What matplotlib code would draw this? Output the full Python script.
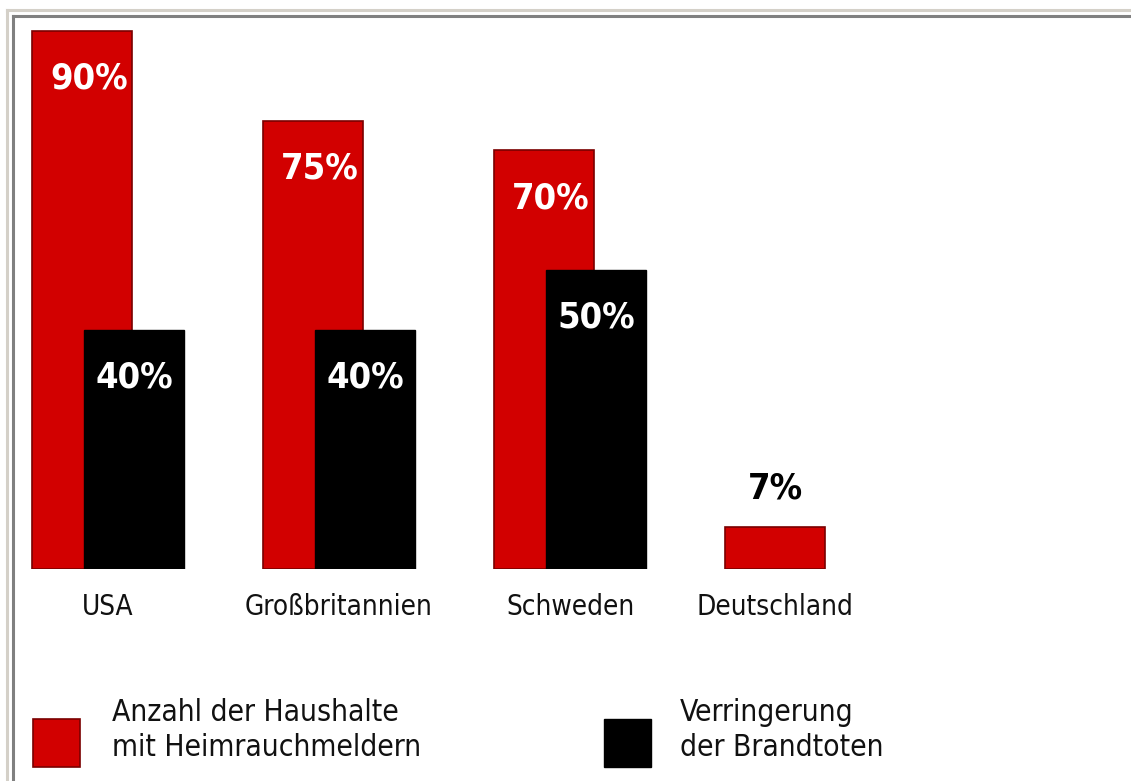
import matplotlib.pyplot as plt
import matplotlib.patches as mpatches
import numpy as np

# data
countries = ['USA', 'Großbritannien', 'Schweden', 'Deutschland']
haushalte = [90, 75, 70, 7]          # Anzahl der Haushalte mit Heimrauchmeldern (%)
brandtote = [40, 40, 50, None]       # Verringerung der Brandtoten (%)
legend_labels = ['Anzahl der Haushalte\nmit Heimrauchmeldern', 'Verringerung\nder Brandtoten']

RED = '#d20000'
RED_EDGE = '#7a0000'
BLACK = '#000000'
FONT = ['DejaVu Sans']
STRETCH = 'condensed'

W, H = 1131, 781
fig = plt.figure(figsize=(W / 100, H / 100), dpi=100)
fig.patch.set_facecolor('white')

# pixel geometry of the plotting area
px_per_cat = 231.0
x0_px = 82.0          # centre of first red bar
base_px = 569.0       # value 0
px_per_pct = 5.98
bar_w = 100 / px_per_cat
shift = 52 / px_per_cat

left_px, right_px, top_px = 14, 1120, 15
ax = fig.add_axes([left_px / W, (H - base_px) / H, (right_px - left_px) / W, (base_px - top_px) / H])
ax.set_xlim((left_px - x0_px) / px_per_cat, (right_px - x0_px) / px_per_cat)
ax.set_ylim(0, (base_px - top_px) / px_per_pct)
ax.axis('off')

x = np.arange(len(countries))
ax.bar(x, haushalte, width=bar_w, color=RED, edgecolor=RED_EDGE, linewidth=1.2, zorder=2)
bx = [xi + shift for xi, b in zip(x, brandtote) if b is not None]
bv = [b for b in brandtote if b is not None]
ax.bar(bx, bv, width=bar_w, color=BLACK, edgecolor=BLACK, linewidth=1, zorder=3)

# value labels
for xi, v in zip(x, haushalte):
    if v > 20:
        ax.text(xi + 0.03, v - 8, f'{v}%', color='white', fontsize=26, fontweight='bold',
                family=FONT, stretch=STRETCH, ha='center', va='center', zorder=4)
    else:
        ax.text(xi, v + 6.5, f'{v}%', color='black', fontsize=26, fontweight='bold',
                family=FONT, stretch=STRETCH, ha='center', va='center', zorder=4)
for xi, v in zip(bx, bv):
    ax.text(xi, v - 8, f'{v}%', color='white', fontsize=26, fontweight='bold',
            family=FONT, stretch=STRETCH, ha='center', va='center', zorder=4)

# category labels
for xi, name, b in zip(x, countries, brandtote):
    cx = xi + shift / 2 if b is not None else xi
    ax.text(cx, -6.4, name, color='#111111', fontsize=20, family=FONT, stretch=STRETCH,
            ha='center', va='center', clip_on=False)

# overlay in pixel coordinates: frame and legend
ov = fig.add_axes([0, 0, 1, 1], zorder=-1)
ov.set_xlim(0, W)
ov.set_ylim(H, 0)
ov.axis('off')
ov.plot([7, 7], [10, H], color='#d4d0c8', lw=2.2)
ov.plot([7, W], [10, 10], color='#d4d0c8', lw=2.2)
ov.plot([12.5, 12.5], [15.5, H], color='#808080', lw=2.2)
ov.plot([12.5, W], [15.5, 15.5], color='#808080', lw=2.2)

ov2 = fig.add_axes([0, 0, 1, 1], zorder=5)
ov2.set_xlim(0, W)
ov2.set_ylim(H, 0)
ov2.axis('off')
ov2.patch.set_alpha(0)
ov2.add_patch(mpatches.Rectangle((33, 719), 47, 48, facecolor=RED, edgecolor=RED_EDGE, lw=1.2))
ov2.add_patch(mpatches.Rectangle((604, 719), 47, 48, facecolor=BLACK, edgecolor=BLACK, lw=1))
ov2.text(112, 730, legend_labels[0], fontsize=21.5, family=FONT, stretch=STRETCH, color='#111111',
         ha='left', va='center', linespacing=1.22)
ov2.text(680, 730, legend_labels[1], fontsize=21.5, family=FONT, stretch=STRETCH, color='#111111',
         ha='left', va='center', linespacing=1.22)

fig.savefig('out.png', dpi=100, facecolor='white')
